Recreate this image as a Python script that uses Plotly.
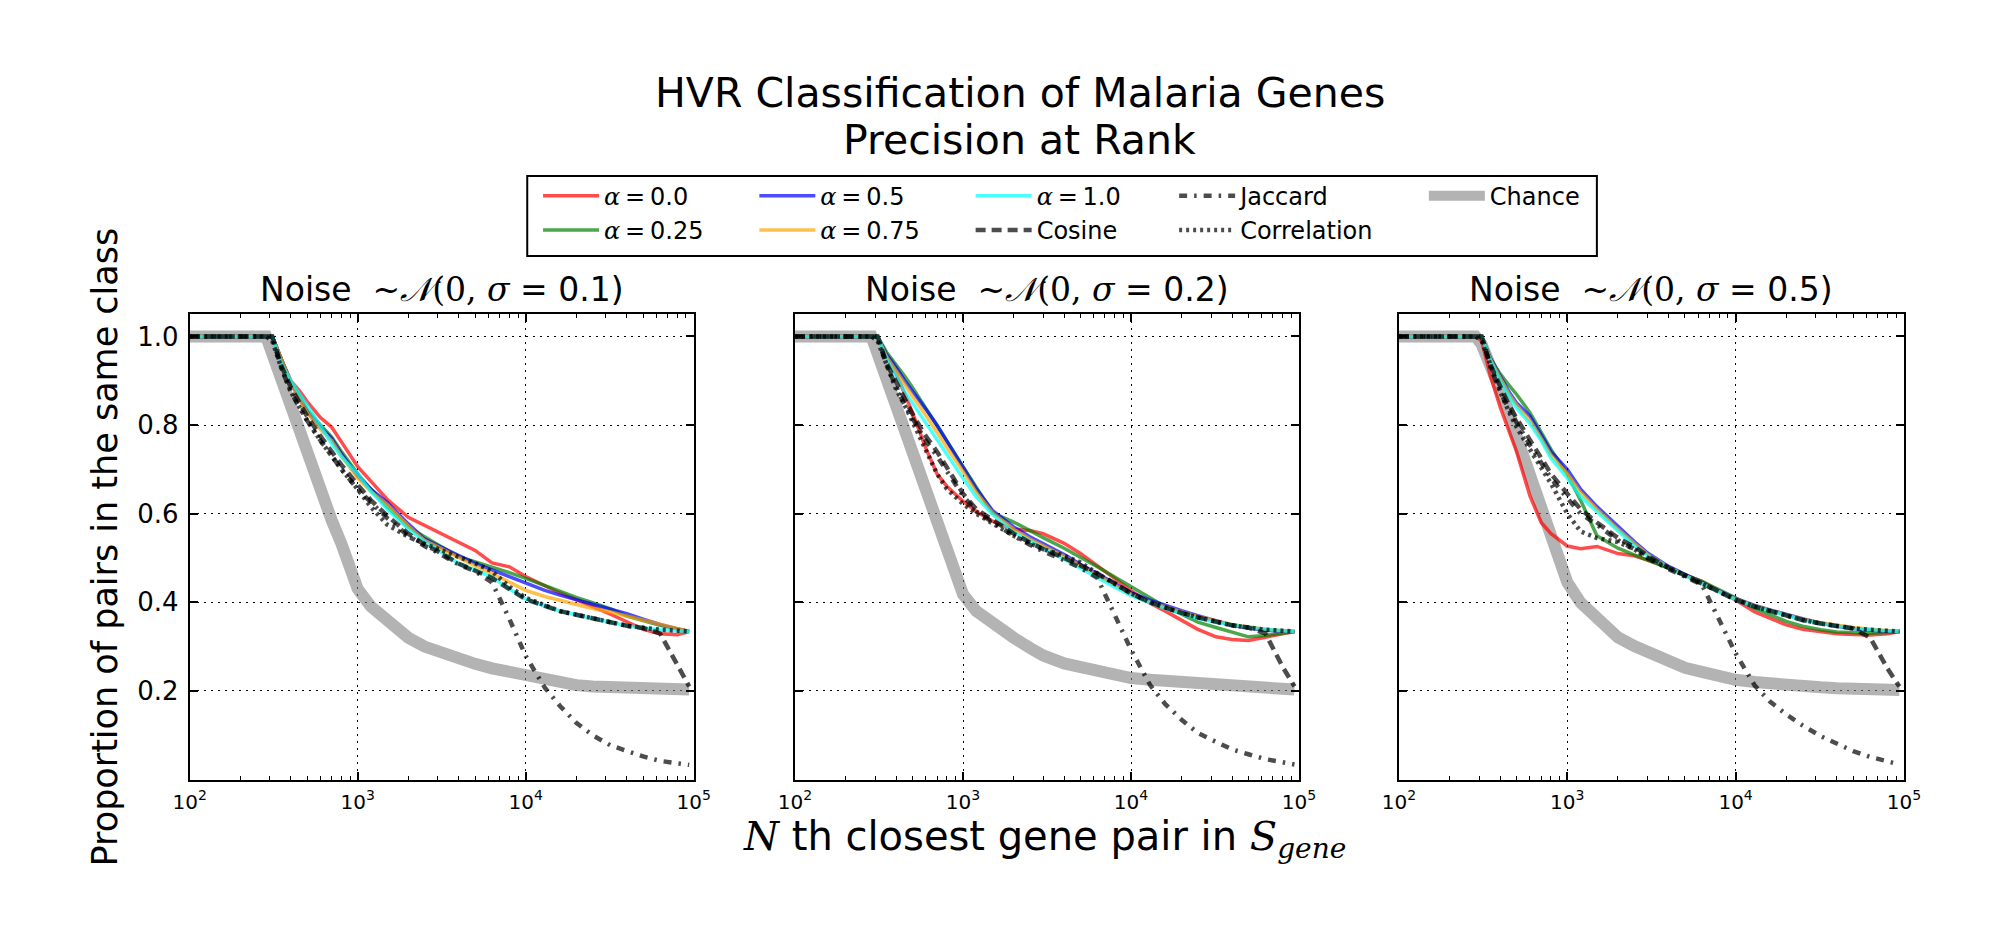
import plotly.graph_objects as go

# ---------------- data ----------------
N_PAIRS = [100, 285, 310, 350, 400, 450, 500, 600, 700, 800, 1000, 1200, 1500, 2000, 2500,
           3000, 4000, 5000, 6300, 8000, 10000, 13000, 16000, 20000, 25000, 32000, 40000,
           50000, 63000, 80000, 94000]

SIGMAS = ["0.1", "0.2", "0.5"]

# panel 1: sigma = 0.1
chance_s01 = [1.0, 1.0, 0.961, 0.905, 0.84, 0.78, 0.725, 0.645, 0.585, 0.532, 0.43, 0.39, 0.356, 0.32, 0.30, 0.288, 0.272, 0.261, 0.251, 0.242, 0.233, 0.224, 0.217, 0.213, 0.21, 0.208, 0.207, 0.206, 0.205, 0.204, 0.203]
a000_s01 = [1.0, 1.0, 1.0, 0.95, 0.90, 0.877, 0.853, 0.817, 0.795, 0.762, 0.706, 0.673, 0.632, 0.592, 0.574, 0.56, 0.536, 0.517, 0.489, 0.48, 0.458, 0.437, 0.421, 0.406, 0.391, 0.373, 0.356, 0.339, 0.329, 0.327, 0.334]
a025_s01 = [1.0, 1.0, 1.0, 0.95, 0.895, 0.865, 0.835, 0.80, 0.773, 0.74, 0.69, 0.655, 0.615, 0.57, 0.547, 0.53, 0.503, 0.492, 0.48, 0.467, 0.454, 0.437, 0.424, 0.411, 0.399, 0.385, 0.369, 0.358, 0.348, 0.34, 0.334]
a050_s01 = [1.0, 1.0, 1.0, 0.95, 0.895, 0.86, 0.83, 0.795, 0.77, 0.735, 0.685, 0.655, 0.625, 0.577, 0.543, 0.528, 0.505, 0.488, 0.473, 0.458, 0.442, 0.427, 0.416, 0.406, 0.397, 0.385, 0.374, 0.362, 0.35, 0.34, 0.334]
a075_s01 = [1.0, 1.0, 1.0, 0.95, 0.895, 0.86, 0.828, 0.79, 0.765, 0.73, 0.68, 0.65, 0.62, 0.572, 0.54, 0.525, 0.5, 0.482, 0.465, 0.445, 0.427, 0.413, 0.404, 0.394, 0.386, 0.378, 0.369, 0.36, 0.35, 0.34, 0.334]
a100_s01 = [1.0, 1.0, 1.0, 0.94, 0.90, 0.87, 0.845, 0.798, 0.758, 0.728, 0.69, 0.65, 0.61, 0.565, 0.537, 0.518, 0.487, 0.473, 0.457, 0.43, 0.407, 0.392, 0.38, 0.372, 0.363, 0.355, 0.347, 0.342, 0.338, 0.336, 0.334]
cosine_s01 = [1.0, 1.0, 1.0, 0.935, 0.885, 0.85, 0.82, 0.775, 0.74, 0.71, 0.665, 0.63, 0.595, 0.555, 0.53, 0.515, 0.487, 0.472, 0.455, 0.43, 0.407, 0.392, 0.38, 0.372, 0.363, 0.355, 0.347, 0.342, 0.33, 0.256, 0.21]
jaccard_s01 = [1.0, 1.0, 1.0, 0.93, 0.875, 0.84, 0.81, 0.765, 0.73, 0.70, 0.655, 0.625, 0.59, 0.55, 0.527, 0.512, 0.485, 0.47, 0.445, 0.362, 0.279, 0.207, 0.166, 0.128, 0.1, 0.077, 0.064, 0.052, 0.042, 0.036, 0.033]
correl_s01 = [1.0, 1.0, 0.99, 0.93, 0.875, 0.84, 0.81, 0.765, 0.73, 0.70, 0.655, 0.615, 0.575, 0.548, 0.532, 0.52, 0.502, 0.488, 0.47, 0.435, 0.41, 0.392, 0.38, 0.372, 0.363, 0.355, 0.347, 0.342, 0.338, 0.336, 0.334]

# panel 2: sigma = 0.2
chance_s02 = [1.0, 1.0, 0.961, 0.905, 0.842, 0.782, 0.728, 0.645, 0.582, 0.527, 0.418, 0.38, 0.35, 0.32, 0.297, 0.28, 0.262, 0.253, 0.246, 0.238, 0.229, 0.225, 0.222, 0.219, 0.216, 0.214, 0.212, 0.21, 0.208, 0.205, 0.203]
a000_s02 = [1.0, 1.0, 1.0, 0.955, 0.915, 0.87, 0.828, 0.748, 0.69, 0.662, 0.628, 0.605, 0.583, 0.565, 0.562, 0.555, 0.533, 0.51, 0.483, 0.454, 0.426, 0.398, 0.38, 0.36, 0.339, 0.322, 0.316, 0.314, 0.322, 0.329, 0.334]
a025_s02 = [1.0, 1.0, 1.0, 0.965, 0.937, 0.91, 0.885, 0.838, 0.799, 0.765, 0.705, 0.657, 0.602, 0.581, 0.561, 0.546, 0.522, 0.502, 0.48, 0.457, 0.435, 0.41, 0.39, 0.373, 0.355, 0.343, 0.333, 0.322, 0.325, 0.33, 0.334]
a050_s02 = [1.0, 1.0, 1.0, 0.96, 0.93, 0.90, 0.877, 0.836, 0.80, 0.765, 0.707, 0.656, 0.607, 0.57, 0.548, 0.533, 0.508, 0.486, 0.464, 0.441, 0.422, 0.405, 0.393, 0.381, 0.37, 0.358, 0.348, 0.342, 0.337, 0.335, 0.334]
a075_s02 = [1.0, 1.0, 1.0, 0.955, 0.92, 0.89, 0.865, 0.822, 0.785, 0.75, 0.695, 0.648, 0.602, 0.565, 0.543, 0.528, 0.503, 0.482, 0.46, 0.437, 0.418, 0.4, 0.389, 0.378, 0.368, 0.358, 0.35, 0.344, 0.339, 0.336, 0.334]
a100_s02 = [1.0, 1.0, 1.0, 0.95, 0.91, 0.875, 0.85, 0.805, 0.765, 0.732, 0.68, 0.638, 0.598, 0.558, 0.537, 0.522, 0.497, 0.476, 0.456, 0.434, 0.415, 0.398, 0.386, 0.374, 0.364, 0.355, 0.348, 0.343, 0.339, 0.336, 0.334]
cosine_s02 = [1.0, 1.0, 1.0, 0.94, 0.895, 0.855, 0.825, 0.775, 0.74, 0.705, 0.645, 0.61, 0.585, 0.555, 0.535, 0.52, 0.5, 0.483, 0.465, 0.443, 0.42, 0.4, 0.388, 0.376, 0.366, 0.356, 0.348, 0.343, 0.33, 0.254, 0.21]
jaccard_s02 = [1.0, 1.0, 1.0, 0.935, 0.885, 0.845, 0.815, 0.765, 0.73, 0.695, 0.64, 0.605, 0.58, 0.55, 0.53, 0.515, 0.495, 0.478, 0.455, 0.37, 0.293, 0.213, 0.17, 0.135, 0.105, 0.085, 0.068, 0.057, 0.046, 0.039, 0.034]
correl_s02 = [1.0, 1.0, 0.99, 0.94, 0.88, 0.845, 0.81, 0.744, 0.69, 0.656, 0.622, 0.6, 0.578, 0.55, 0.533, 0.52, 0.505, 0.49, 0.465, 0.443, 0.42, 0.4, 0.388, 0.376, 0.366, 0.356, 0.348, 0.343, 0.338, 0.336, 0.334]

# panel 3: sigma = 0.5
chance_s05 = [1.0, 1.0, 0.982, 0.937, 0.883, 0.83, 0.774, 0.686, 0.606, 0.54, 0.445, 0.399, 0.363, 0.321, 0.301, 0.287, 0.266, 0.252, 0.243, 0.233, 0.225, 0.22, 0.216, 0.213, 0.21, 0.208, 0.206, 0.205, 0.204, 0.203, 0.202]
a000_s05 = [1.0, 1.0, 0.99, 0.91, 0.84, 0.786, 0.74, 0.64, 0.58, 0.555, 0.527, 0.521, 0.526, 0.51, 0.505, 0.495, 0.479, 0.462, 0.447, 0.425, 0.405, 0.378, 0.363, 0.349, 0.339, 0.333, 0.329, 0.327, 0.326, 0.329, 0.334]
a025_s05 = [1.0, 1.0, 1.0, 0.95, 0.915, 0.89, 0.869, 0.828, 0.784, 0.745, 0.689, 0.63, 0.55, 0.522, 0.507, 0.495, 0.477, 0.462, 0.447, 0.428, 0.41, 0.386, 0.371, 0.357, 0.346, 0.338, 0.333, 0.331, 0.33, 0.332, 0.334]
a050_s05 = [1.0, 1.0, 1.0, 0.95, 0.91, 0.875, 0.85, 0.82, 0.778, 0.74, 0.70, 0.655, 0.616, 0.57, 0.537, 0.511, 0.481, 0.463, 0.444, 0.425, 0.409, 0.393, 0.383, 0.372, 0.363, 0.353, 0.346, 0.341, 0.337, 0.335, 0.334]
a075_s05 = [1.0, 1.0, 1.0, 0.948, 0.905, 0.87, 0.845, 0.81, 0.77, 0.732, 0.69, 0.648, 0.61, 0.565, 0.533, 0.508, 0.479, 0.461, 0.443, 0.424, 0.408, 0.392, 0.382, 0.371, 0.362, 0.354, 0.348, 0.343, 0.339, 0.336, 0.334]
a100_s05 = [1.0, 1.0, 1.0, 0.945, 0.90, 0.865, 0.838, 0.803, 0.765, 0.725, 0.68, 0.638, 0.605, 0.56, 0.528, 0.505, 0.478, 0.46, 0.442, 0.423, 0.406, 0.39, 0.38, 0.369, 0.36, 0.352, 0.346, 0.341, 0.338, 0.335, 0.334]
cosine_s05 = [1.0, 1.0, 1.0, 0.935, 0.885, 0.845, 0.815, 0.765, 0.725, 0.69, 0.645, 0.61, 0.58, 0.545, 0.525, 0.505, 0.478, 0.46, 0.442, 0.423, 0.406, 0.39, 0.38, 0.369, 0.36, 0.352, 0.346, 0.341, 0.32, 0.25, 0.21]
jaccard_s05 = [1.0, 1.0, 1.0, 0.93, 0.875, 0.835, 0.805, 0.755, 0.715, 0.68, 0.635, 0.6, 0.575, 0.54, 0.52, 0.5, 0.475, 0.458, 0.44, 0.36, 0.285, 0.212, 0.176, 0.147, 0.122, 0.098, 0.08, 0.064, 0.051, 0.04, 0.034]
correl_s05 = [1.0, 1.0, 0.99, 0.935, 0.875, 0.83, 0.795, 0.745, 0.705, 0.668, 0.60, 0.56, 0.545, 0.536, 0.52, 0.5, 0.478, 0.46, 0.442, 0.423, 0.406, 0.39, 0.38, 0.369, 0.36, 0.352, 0.346, 0.341, 0.338, 0.335, 0.334]

X_TICK_VALS = [100, 1000, 10000, 100000]
X_TICK_TEXT = ["10<sup>2</sup>", "10<sup>3</sup>", "10<sup>4</sup>", "10<sup>5</sup>"]
X_MINOR_VALS = [m * 10 ** e for e in (2, 3, 4) for m in range(2, 10)]
Y_TICK_VALS = [0.2, 0.4, 0.6, 0.8, 1.0]
Y_TICK_TEXT = ["0.2", "0.4", "0.6", "0.8", "1.0"]

PANELS = [
    dict(chance=chance_s01, a000=a000_s01, a025=a025_s01, a050=a050_s01, a075=a075_s01,
         a100=a100_s01, cosine=cosine_s01, jaccard=jaccard_s01, correl=correl_s01),
    dict(chance=chance_s02, a000=a000_s02, a025=a025_s02, a050=a050_s02, a075=a075_s02,
         a100=a100_s02, cosine=cosine_s02, jaccard=jaccard_s02, correl=correl_s02),
    dict(chance=chance_s05, a000=a000_s05, a025=a025_s05, a050=a050_s05, a075=a075_s05,
         a100=a100_s05, cosine=cosine_s05, jaccard=jaccard_s05, correl=correl_s05),
]

# ---------------- styles ----------------
FONT = "DejaVu Sans"
SERIF = "DejaVu Serif"
THIN = "\u2009"


def math(s):
    return "<span style=\"font-family:'%s'\">%s</span>" % (SERIF, s)


def alpha_label(v):
    return math("<i>α</i>" + THIN + "=" + THIN) + v


SERIES = [
    # key, label, color, width, dash, legend
    ("chance", "Chance", "rgba(128,128,128,0.6)", 12, "solid", "legend5"),
    ("a000", alpha_label("0.0"), "rgba(255,0,0,0.7)", 3.5, "solid", "legend"),
    ("a025", alpha_label("0.25"), "rgba(0,128,0,0.7)", 3.5, "solid", "legend"),
    ("a050", alpha_label("0.5"), "rgba(0,0,255,0.7)", 3.5, "solid", "legend2"),
    ("a075", alpha_label("0.75"), "rgba(255,165,0,0.7)", 3.5, "solid", "legend2"),
    ("a100", alpha_label("1.0"), "rgba(0,255,255,0.7)", 3.5, "solid", "legend3"),
    ("cosine", "Cosine", "rgba(0,0,0,0.7)", 4.5, "10px,6px", "legend3"),
    ("jaccard", "Jaccard", "rgba(0,0,0,0.7)", 4.5, "8px,7px,2.5px,7px", "legend4"),
    ("correl", "Correlation", "rgba(0,0,0,0.7)", 4.5, "3px,4px", "legend4"),
]

W, H = 2015, 945
X_DOMAINS = [[175.7 / W, 688.3 / W], [791.4 / W, 1304.0 / W], [1405.7 / W, 1919.3 / W]]
Y_DOMAIN = [1 - 779.5 / H, 1 - 314.3 / H]

fig = go.Figure()

for p, panel in enumerate(PANELS):
    xa = "x" if p == 0 else "x%d" % (p + 1)
    ya = "y" if p == 0 else "y%d" % (p + 1)
    for key, label, color, width, dash, leg in SERIES:
        fig.add_trace(go.Scatter(
            x=N_PAIRS, y=panel[key], mode="lines", name=label,
            line=dict(color=color, width=width, dash=dash),
            xaxis=xa, yaxis=ya, legend=leg, legendgroup=key,
            showlegend=(p == 0), hoverinfo="skip",
        ))

axis_common = dict(
    showline=True, linecolor="black", linewidth=2, mirror="ticks",
    ticks="inside", tickcolor="black", tickwidth=1.5, ticklen=8,
    showgrid=True, gridcolor="black", gridwidth=1, griddash="2px,5px",
    zeroline=False,
)

layout = dict(
    width=W, height=H, margin=dict(l=0, r=0, t=0, b=0),
    paper_bgcolor="white", plot_bgcolor="white",
    font=dict(family=FONT, color="black"),
    annotations=[], shapes=[],
)

for p in range(3):
    xk = "xaxis" if p == 0 else "xaxis%d" % (p + 1)
    yk = "yaxis" if p == 0 else "yaxis%d" % (p + 1)
    ya = "y" if p == 0 else "y%d" % (p + 1)
    xa = "x" if p == 0 else "x%d" % (p + 1)
    layout[xk] = dict(
        axis_common, type="log", range=[2, 5], domain=X_DOMAINS[p], anchor=ya,
        tickmode="array", tickvals=X_TICK_VALS, ticktext=X_TICK_TEXT,
        tickfont=dict(size=20, family=FONT), ticklabelstandoff=3,
        minor=dict(ticks="inside", ticklen=4, tickwidth=1, tickcolor="black",
                   tickmode="array", tickvals=X_MINOR_VALS, showgrid=False),
    )
    layout[yk] = dict(
        axis_common, range=[0, 1.05], domain=Y_DOMAIN, anchor=xa,
        tickmode="array", tickvals=Y_TICK_VALS, ticktext=Y_TICK_TEXT,
        tickfont=dict(size=26, family=FONT), showticklabels=(p == 0),
        ticklabelstandoff=4,
    )
    cx = (X_DOMAINS[p][0] + X_DOMAINS[p][1]) / 2
    layout["annotations"].append(dict(
        text="Noise  " + math("~<i>𝒩</i>(0, <i>σ</i> = ") + SIGMAS[p] + ")",
        x=cx, y=1 - 289.6 / H, xref="paper", yref="paper",
        xanchor="center", yanchor="middle", showarrow=False,
        font=dict(size=33, family=FONT, color="black"),
    ))

# figure titles
layout["annotations"] += [
    dict(text="HVR Classification of Malaria Genes", x=1020 / W, y=1 - 93.5 / H,
         xref="paper", yref="paper", xanchor="center", yanchor="middle", showarrow=False,
         font=dict(size=41, family=FONT, color="black")),
    dict(text="Precision at Rank", x=1020 / W, y=1 - 139.5 / H,
         xref="paper", yref="paper", xanchor="center", yanchor="middle", showarrow=False,
         font=dict(size=41, family=FONT, color="black")),
    dict(text=math("<i>N</i>") + " th closest gene pair in " + math("<i>S</i><sub><i>gene</i></sub>"),
         x=1045 / W, y=1 - 839 / H,
         xref="paper", yref="paper", xanchor="center", yanchor="middle", showarrow=False,
         font=dict(size=40, family=FONT, color="black")),
    dict(text="Proportion of pairs in the same class", x=89 / W, y=1 - 546.9 / H,
         xref="paper", yref="paper", xanchor="center", yanchor="middle", showarrow=False,
         textangle=-90, font=dict(size=35, family=FONT, color="black")),
]

# legend box
layout["shapes"].append(dict(type="rect", xref="paper", yref="paper",
                             x0=519 / W, x1=1607 / W, y0=1 - 256 / H, y1=1 - 176 / H,
                             line=dict(color="black", width=2), fillcolor="rgba(0,0,0,0)"))

COL_X = [535, 755, 975, 1182, 1436]
for i, cx in enumerate(COL_X):
    key = "legend" if i == 0 else "legend%d" % (i + 1)
    layout[key] = dict(
        x=(cx - 5) / W, y=1 - 173.6 / H, xanchor="left", yanchor="top",
        orientation="v", bgcolor="rgba(0,0,0,0)", borderwidth=0,
        font=dict(size=24, family=FONT, color="black"),
        itemwidth=56, tracegroupgap=2, traceorder="normal",
    )

fig.update_layout(**layout)
fig.write_html("out.html")
